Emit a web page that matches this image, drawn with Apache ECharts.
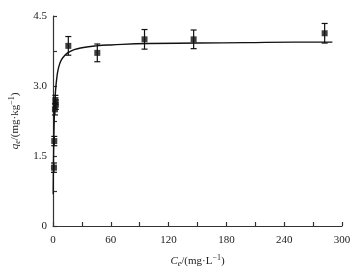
<!DOCTYPE html>
<html><head><meta charset="utf-8">
<script src="https://cdn.jsdelivr.net/npm/echarts@6/dist/echarts.min.js"></script>
<style>html,body{margin:0;padding:0;background:#fff}#c{width:355px;height:274px}</style>
</head><body><div id="c"></div>
<script>
// measured points
var ceValues = [1.0, 1.3, 2.0, 2.5, 3.0, 15.9, 46, 95, 146, 282];
var qeValues = [1.25, 1.82, 2.5, 2.7, 2.6, 3.86, 3.71, 4.0, 4.0, 4.13];
var qeErrors = [0.1, 0.1, 0.12, 0.1, 0.1, 0.2, 0.19, 0.21, 0.2, 0.21];
// fitted curve
var curveCe = [0.2, 0.4, 0.7, 1.0, 1.5, 2.0, 3.0, 4.0, 5.0, 7.0, 9.0, 12, 16, 22, 30, 45, 60, 100, 150, 200, 250, 290];
var curveQe = [0.68, 1.17, 1.68, 2.02, 2.43, 2.68, 2.99, 3.18, 3.32, 3.48, 3.57, 3.65, 3.72, 3.78, 3.82, 3.86, 3.88, 3.91, 3.92, 3.93, 3.94, 3.94];
var xTicks = [0, 60, 120, 180, 240, 300];
var yTicks = [0, 1.5, 3.0, 4.5];

var pts = ceValues.map(function(c,i){return [c, qeValues[i]];});
var errs = ceValues.map(function(c,i){return [c, qeValues[i]-qeErrors[i], qeValues[i]+qeErrors[i]];});
var curve = curveCe.map(function(c,i){return [c, curveQe[i]];});
var font = 'Liberation Serif';
var axisCol = '#333';
var chart = echarts.init(document.getElementById('c'), null, {renderer:'canvas'});
chart.setOption({
  animation:false,
  grid:{left:53,right:13,top:16,bottom:48,containLabel:false},
  xAxis:{type:'value',min:0,max:300,interval:30,
    axisLine:{lineStyle:{color:axisCol,width:1.2}},
    axisTick:{inside:true,length:4,lineStyle:{color:axisCol,width:1.2}},
    splitLine:{show:false},
    axisLabel:{fontFamily:font,fontSize:11,color:'#222',margin:9,
      formatter:function(v){return xTicks.indexOf(v)>=0?String(v):'';}},
    name:'{i|C}{s|e}/(mg·L{sup|−1})',nameLocation:'middle',nameGap:28,
    nameTextStyle:{fontFamily:font,fontSize:11,color:'#222',
      rich:{i:{fontFamily:font,fontStyle:'italic',fontSize:11,color:'#222'},
            s:{fontFamily:font,fontStyle:'italic',fontSize:8,verticalAlign:'bottom',padding:[6,0,0,0],color:'#222'},
            sup:{fontFamily:font,fontSize:8,verticalAlign:'top',padding:[0,0,5,0],color:'#222'}}}
  },
  yAxis:{type:'value',min:0,max:4.5,interval:0.75,
    axisLine:{show:true,lineStyle:{color:axisCol,width:1.2}},
    axisTick:{show:true,inside:true,length:4,lineStyle:{color:axisCol,width:1.2}},
    splitLine:{show:false},
    axisLabel:{fontFamily:font,fontSize:11,color:'#222',margin:6,
      formatter:function(v){var m=yTicks.filter(function(t){return Math.abs(t-v)<1e-6;});
        if(!m.length)return ''; return v===0?'0':v.toFixed(1);}},
    name:'{i|q}{s|e}/(mg·kg{sup|−1})',nameLocation:'middle',nameGap:29,
    nameTextStyle:{fontFamily:font,fontSize:11,color:'#222',
      rich:{i:{fontFamily:font,fontStyle:'italic',fontSize:11,color:'#222'},
            s:{fontFamily:font,fontStyle:'italic',fontSize:8,verticalAlign:'bottom',padding:[6,0,0,0],color:'#222'},
            sup:{fontFamily:font,fontSize:8,verticalAlign:'top',padding:[0,0,5,0],color:'#222'}}}
  },
  series:[
    {type:'line',data:curve,smooth:true,showSymbol:false,lineStyle:{color:'#111',width:1.4},z:2},
    {type:'custom',data:errs,z:3,renderItem:function(params,api){
      var x=api.value(0),lo=api.coord([x,api.value(1)]),hi=api.coord([x,api.value(2)]);
      var w=3;
      return {type:'group',children:[
        {type:'line',shape:{x1:lo[0],y1:lo[1],x2:hi[0],y2:hi[1]},style:{stroke:'#111',lineWidth:1.2}},
        {type:'line',shape:{x1:lo[0]-w,y1:lo[1],x2:lo[0]+w,y2:lo[1]},style:{stroke:'#111',lineWidth:1.2}},
        {type:'line',shape:{x1:hi[0]-w,y1:hi[1],x2:hi[0]+w,y2:hi[1]},style:{stroke:'#111',lineWidth:1.2}}
      ]};
    }},
    {type:'scatter',data:pts,symbol:'rect',symbolSize:6,itemStyle:{color:'#111'},z:4}
  ]
});
</script></body></html>
